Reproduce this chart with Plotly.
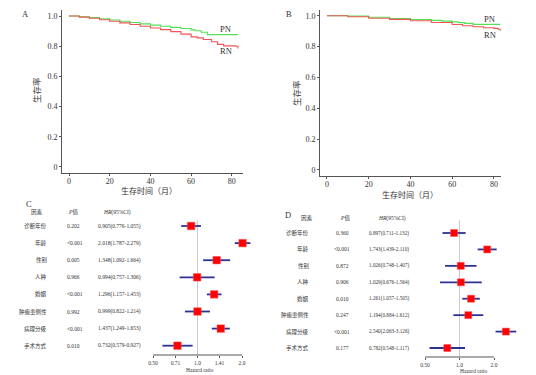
import math
import plotly.graph_objects as go

# ---------------- data ----------------
# Panel A (Kaplan-Meier)
A_PN_time = [0, 5, 10, 15, 20, 25, 30, 35, 40, 45, 50, 55, 60, 62, 65, 68, 83]
A_PN_surv = [1.0, 0.995, 0.99, 0.982, 0.974, 0.965, 0.957, 0.948, 0.94, 0.932, 0.925, 0.917, 0.908, 0.903, 0.893, 0.877, 0.877]
A_RN_time = [0, 5, 10, 15, 20, 25, 30, 35, 40, 45, 50, 55, 60, 63, 66, 70, 73, 76, 82, 83]
A_RN_surv = [1.0, 0.993, 0.985, 0.975, 0.965, 0.955, 0.944, 0.932, 0.921, 0.91, 0.897, 0.88, 0.862, 0.855, 0.845, 0.83, 0.812, 0.802, 0.80, 0.785]
# Panel B
B_PN_time = [0, 10, 20, 30, 40, 50, 55, 60, 63, 66, 70, 83]
B_PN_surv = [1.0, 0.997, 0.99, 0.982, 0.975, 0.97, 0.965, 0.96, 0.955, 0.95, 0.944, 0.944]
B_RN_time = [0, 10, 20, 30, 40, 50, 60, 65, 70, 75, 80, 82, 83]
B_RN_surv = [1.0, 0.993, 0.984, 0.976, 0.967, 0.956, 0.943, 0.935, 0.928, 0.922, 0.918, 0.912, 0.903]

km_xticks = [0, 20, 40, 60, 80]
km_yticks = [0, 0.2, 0.4, 0.6, 0.8, 1.0]
km_yticktext = ["0", "0.2", "0.4", "0.6", "0.8", "1.0"]

# Forest plots
factors = ["诊断年份", "年龄", "性别", "人种", "婚姻", "肿瘤患侧性", "病理分级", "手术方式"]

C_p = ["0.202", "<0.001", "0.005", "0.966", "<0.001", "0.992", "<0.001", "0.010"]
C_hr = [0.905, 2.018, 1.348, 0.994, 1.296, 0.999, 1.437, 0.732]
C_lo = [0.776, 1.787, 1.092, 0.757, 1.157, 0.822, 1.249, 0.579]
C_hi = [1.055, 2.279, 1.664, 1.306, 1.453, 1.214, 1.653, 0.927]
C_ticks = [0.5, 0.71, 1.0, 1.41, 2.0]
C_ticktext = ["0.50", "0.71", "1.0", "1.41", "2.0"]

D_p = ["0.360", "<0.001", "0.872", "0.906", "0.010", "0.247", "<0.001", "0.177"]
D_hr = [0.897, 1.743, 1.026, 1.029, 1.261, 1.194, 2.540, 0.782]
D_lo = [0.711, 1.439, 0.748, 0.676, 1.057, 0.884, 2.063, 0.548]
D_hi = [1.132, 2.110, 1.407, 1.564, 1.505, 1.612, 3.126, 1.117]
D_ticks = [0.5, 1.0, 2.0]
D_ticktext = ["0.50", "1.0", "2.0"]

# ---------------- styling ----------------
W, H = 536, 375
FONT = "Liberation Serif, Noto Sans CJK SC, serif"
TXT = "#333333"
GREEN = "#55E055"
RED = "#F05555"
NAVY = "#2E3192"


def px(x):
    return x / W


def py(y):
    return 1 - y / H


fig = go.Figure()

# KM curves
fig.add_trace(go.Scatter(x=A_PN_time, y=A_PN_surv, mode="lines", line=dict(color=GREEN, width=1.1, shape="hv"),
                         xaxis="x", yaxis="y", showlegend=False))
fig.add_trace(go.Scatter(x=A_RN_time, y=A_RN_surv, mode="lines", line=dict(color=RED, width=1.1, shape="hv"),
                         xaxis="x", yaxis="y", showlegend=False))
fig.add_trace(go.Scatter(x=B_PN_time, y=B_PN_surv, mode="lines", line=dict(color=GREEN, width=1.1, shape="hv"),
                         xaxis="x2", yaxis="y2", showlegend=False))
fig.add_trace(go.Scatter(x=B_RN_time, y=B_RN_surv, mode="lines", line=dict(color=RED, width=1.1, shape="hv"),
                         xaxis="x2", yaxis="y2", showlegend=False))

rows = list(range(len(factors)))


def ci_xy(lo, hi):
    xs, ys = [], []
    for i, (a, b) in enumerate(zip(lo, hi)):
        xs += [a, b, None]
        ys += [i, i, None]
    return xs, ys


for (hr, lo, hi, xa, ya, msize) in [(C_hr, C_lo, C_hi, "x3", "y3", 7.5), (D_hr, D_lo, D_hi, "x4", "y4", 7)]:
    xs, ys = ci_xy(lo, hi)
    fig.add_trace(go.Scatter(x=xs, y=ys, mode="lines", line=dict(color=NAVY, width=1.8),
                             xaxis=xa, yaxis=ya, showlegend=False))
    fig.add_trace(go.Scatter(x=hr, y=rows, mode="markers",
                             marker=dict(symbol="square", size=msize, color="#FF0000",
                                         line=dict(color="#FF5050", width=0.5)),
                             xaxis=xa, yaxis=ya, showlegend=False, cliponaxis=False))

km_axis_common = dict(showgrid=False, zeroline=False, showline=True, linecolor="#555555", linewidth=1,
                      ticks="outside", ticklen=2, tickcolor="#555555",
                      tickfont=dict(family=FONT, size=8, color=TXT))

# Panel A / B axes
fig.update_layout(
    xaxis=dict(domain=[px(62), px(243)], range=[-3.44, 85.5], tickvals=km_xticks, anchor="y",
               ticklabelstandoff=-2, **km_axis_common),
    yaxis=dict(domain=[py(173), py(10)], range=[-0.04, 1.04], tickvals=km_yticks, ticktext=km_yticktext,
               anchor="x", **km_axis_common),
    xaxis2=dict(domain=[px(320), px(501)], range=[-3.35, 83.4], tickvals=km_xticks, anchor="y2",
                ticklabelstandoff=-2, **km_axis_common),
    yaxis2=dict(domain=[py(176), py(10)], range=[-0.039, 1.037], tickvals=km_yticks, ticktext=km_yticktext,
                anchor="x2", **km_axis_common),
)

forest_x_common = dict(type="log", showgrid=False, zeroline=False, showline=False, ticks="outside", ticklen=2,
                       tickcolor="#555555", tickfont=dict(family=FONT, size=5.5, color=TXT))
L2 = math.log10(2)
# C: 0.5 at px 153, 2.0 at px 242 -> 44.5 px per doubling; domain 140..262
C_dom = (140, 262)
C_range = [(-1 - (153 - C_dom[0]) / 44.5) * L2, (-1 + (C_dom[1] - 153) / 44.5) * L2]
# D: 0.5 at px 425, 2.0 at px 494 -> 34.5 px per doubling; domain 415..530
D_dom = (415, 530)
D_range = [(-1 - (425 - D_dom[0]) / 34.5) * L2, (-1 + (D_dom[1] - 425) / 34.5) * L2]

C_r0, C_sp, C_axis = 226, 17.1, 355
C_top = 205
C_yr = [(C_axis - C_r0) / C_sp, (C_top - C_r0) / C_sp]
D_r0, D_sp, D_axis = 233, 16.43, 357
D_top = 205
D_yr = [(D_axis - D_r0) / D_sp, (D_top - D_r0) / D_sp]

fig.update_layout(
    xaxis3=dict(domain=[px(C_dom[0]), px(C_dom[1])], range=C_range, tickvals=C_ticks, ticktext=C_ticktext,
                anchor="y3", **forest_x_common),
    yaxis3=dict(domain=[py(C_axis), py(C_top)], range=C_yr, visible=False, anchor="x3"),
    xaxis4=dict(domain=[px(D_dom[0]), px(D_dom[1])], range=D_range, tickvals=D_ticks, ticktext=D_ticktext,
                anchor="y4", **forest_x_common),
    yaxis4=dict(domain=[py(D_axis), py(D_top)], range=D_yr, visible=False, anchor="x4"),
)

shapes = []
shapes.append(dict(type="line", xref="x3", yref="y3 domain", x0=C_ticks[0], x1=C_ticks[-1], y0=0, y1=0,
                   line=dict(color="#555555", width=1)))
shapes.append(dict(type="line", xref="x4", yref="y4 domain", x0=D_ticks[0], x1=D_ticks[-1], y0=0, y1=0,
                   line=dict(color="#555555", width=1)))
shapes.append(dict(type="line", xref="x3", yref="y3", x0=1.0, x1=1.0, y0=(220 - C_r0) / C_sp, y1=C_yr[0],
                   line=dict(color="#CCCCCC", width=1), layer="below"))
shapes.append(dict(type="line", xref="x4", yref="y4", x0=1.0, x1=1.0, y0=(220 - D_r0) / D_sp, y1=D_yr[0],
                   line=dict(color="#CCCCCC", width=1), layer="below"))
fig.update_layout(shapes=shapes)

ann = []


def t(x, y, text, size=8.5, xanchor="center", color=TXT, textangle=0, xref="paper", yref="paper"):
    ann.append(dict(x=x, y=y, xref=xref, yref=yref, text=text, showarrow=False, xanchor=xanchor,
                    yanchor="middle", textangle=textangle, font=dict(family=FONT, size=size, color=color)))


# panel letters
t(px(25), py(14), "A", 8.5)
t(px(289), py(14), "B", 8.5)
t(px(29), py(204), "C", 8.5)
t(px(288), py(215), "D", 8.5)

# KM titles
t(px(149), py(191), "生存时间（月）", 8)
t(px(37), py(90), "生存率", 8.5, textangle=-90)
t(px(410), py(195), "生存时间（月）", 8)
t(px(297), py(93), "生存率", 8.5, textangle=-90)

# curve labels
t(73.0, 0.914, "PN", 8.5, xanchor="left", xref="x", yref="y")
t(73.0, 0.768, "RN", 8.5, xanchor="left", xref="x", yref="y")
t(74.5, 0.979, "PN", 8.5, xanchor="left", xref="x2", yref="y2")
t(74.5, 0.875, "RN", 8.5, xanchor="left", xref="x2", yref="y2")

# Forest C text
FS = 5.5
hy = (212 - C_r0) / C_sp
t(px(37), hy, "因素", FS, yref="y3")
t(px(73), hy, "<i>P</i>值", FS, yref="y3")
t(px(117), hy, "<i>HR</i>(95%CI)", FS, yref="y3")
for i, f in enumerate(factors):
    t(px(49), i, f, FS, xanchor="right", yref="y3")
    t(px(65), i, C_p[i], FS, xanchor="left", yref="y3")
    t(px(96), i, "%.3f(%.3f-%.3f)" % (C_hr[i], C_lo[i], C_hi[i]), FS, xanchor="left", yref="y3")
t(px(200), py(369.5), "Hazard ratio", FS)

# Forest D text
hy = (218 - D_r0) / D_sp
t(px(307), hy, "因素", FS, yref="y4")
t(px(345), hy, "<i>P</i>值", FS, yref="y4")
t(px(392), hy, "<i>HR</i>(95%CI)", FS, yref="y4")
for i, f in enumerate(factors):
    t(px(311), i, f, FS, xanchor="right", yref="y4")
    t(px(342), i, D_p[i], FS, yref="y4")
    t(px(389), i, "%.3f(%.3f-%.3f)" % (D_hr[i], D_lo[i], D_hi[i]), FS - 0.3, yref="y4")
t(px(474), py(371), "Hazard ratio", FS)

fig.update_layout(annotations=ann, width=W, height=H, margin=dict(l=0, r=0, t=0, b=0),
                  paper_bgcolor="white", plot_bgcolor="white", showlegend=False, hovermode=False)

fig.write_html("out.html", config={"displayModeBar": False, "staticPlot": True},
               post_script="document.body.style.margin='0';document.body.style.overflow='hidden';")
